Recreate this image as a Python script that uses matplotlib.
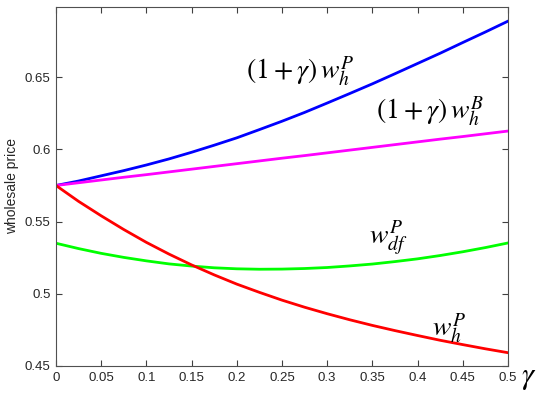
import matplotlib
matplotlib.use("Agg")
from matplotlib import pyplot as plt
from matplotlib.ticker import FormatStrFormatter
import numpy as np

gamma = [0, 0.025, 0.05, 0.075, 0.1, 0.125, 0.15, 0.175, 0.2, 0.225, 0.25,
         0.275, 0.3, 0.325, 0.35, 0.375, 0.4, 0.425, 0.45, 0.475, 0.5]

# (1+gamma) w_h^P
blue = [0.575, 0.5781, 0.5817, 0.5853, 0.5892, 0.5934, 0.598, 0.6029, 0.608, 0.6137, 0.6195,
        0.6256, 0.6321, 0.6387, 0.6454, 0.6524, 0.6595, 0.6666, 0.674, 0.6813, 0.6888]
# (1+gamma) w_h^B
magenta = [0.575, 0.5769, 0.5788, 0.5807, 0.5825, 0.5844, 0.5863, 0.5882, 0.5901, 0.592, 0.5939,
           0.5957, 0.5976, 0.5995, 0.6014, 0.6033, 0.6052, 0.6071, 0.6089, 0.6108, 0.6127]
# w_df^P
green = [0.535, 0.5313, 0.528, 0.5252, 0.5228, 0.5207, 0.5192, 0.518, 0.5173, 0.517, 0.5171,
         0.5175, 0.5182, 0.5193, 0.5206, 0.5223, 0.5242, 0.5265, 0.5291, 0.532, 0.5352]
# w_h^P
red = [0.575, 0.564, 0.554, 0.5445, 0.5356, 0.5275, 0.52, 0.5131, 0.5067, 0.501, 0.4956,
       0.4907, 0.4862, 0.482, 0.4781, 0.4745, 0.4711, 0.4678, 0.4648, 0.4619, 0.4592]

xticks = [0, 0.05, 0.1, 0.15, 0.2, 0.25, 0.3, 0.35, 0.4, 0.45, 0.5]
yticks = [0.45, 0.5, 0.55, 0.6, 0.65]

plt.rcParams['mathtext.fontset'] = 'stix'
plt.rcParams['font.family'] = ['Liberation Sans', 'DejaVu Sans']

fig = plt.figure(figsize=(5.5, 3.94), dpi=100)
ax = fig.add_axes([0.1018, 0.0711, 0.8218, 0.9111])

lw = 2.0
ax.plot(gamma, blue, color='#0000ff', lw=lw)
ax.plot(gamma, magenta, color='#ff00ff', lw=lw)
ax.plot(gamma, green, color='#00ff00', lw=lw)
ax.plot(gamma, red, color='#ff0000', lw=lw)

ax.set_xlim(0, 0.5)
ax.set_ylim(0.45, 0.6986)
ax.set_xticks(xticks)
ax.set_yticks(yticks)
ax.xaxis.set_major_formatter(FormatStrFormatter('%g'))
ax.yaxis.set_major_formatter(FormatStrFormatter('%g'))
ax.tick_params(direction='in', length=4, width=0.8, top=True, right=True,
               labelsize=9.5, colors='#404040', labelcolor='#262626', pad=4)
for s in ax.spines.values():
    s.set_color('#505050')
    s.set_linewidth(0.8)

ax.set_ylabel('wholesale price', fontsize=10, color='#262626', labelpad=4)

lab = dict(fontsize=20, color='black', va='center', ha='left')
ax.text(0.210, 0.6535, r'$\left(1+\gamma\right)\,w_h^P$', **lab)
ax.text(0.354, 0.6257, r'$\left(1+\gamma\right)\,w_h^B$', **lab)
ax.text(0.346, 0.5388, r'$w_{df}^P$', **lab)
ax.text(0.416, 0.4757, r'$w_h^P$', **lab)

ax.text(1.045, -0.03, r'$\gamma$', transform=ax.transAxes, fontsize=22,
        ha='center', va='center', color='black')

fig.savefig('out.png', dpi=100)
